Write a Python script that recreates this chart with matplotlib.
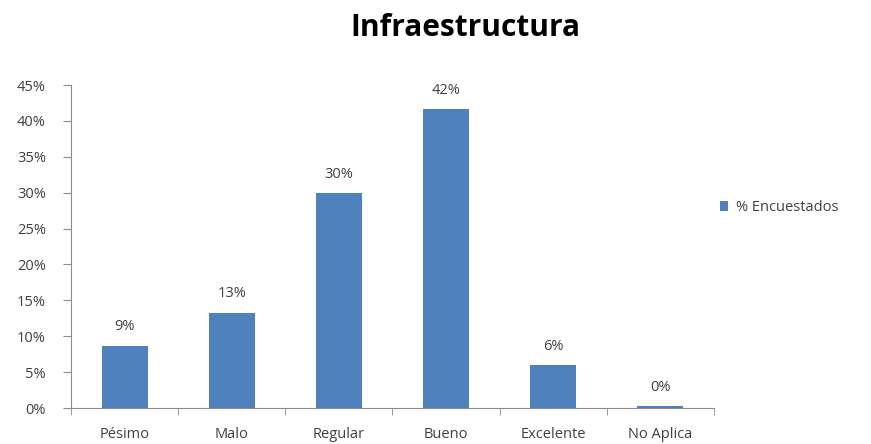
import matplotlib
import matplotlib.pyplot as plt
import numpy as np

matplotlib.use("Agg")

categorias = ["Pésimo", "Malo", "Regular", "Bueno", "Excelente", "No Aplica"]
porcentajes = [8.7, 13.3, 30.0, 41.7, 6.0, 0.3]
etiquetas = ["9%", "13%", "30%", "42%", "6%", "0%"]
ticks_y = [0, 5, 10, 15, 20, 25, 30, 35, 40, 45]

plt.rcParams["font.family"] = ["Open Sans", "DejaVu Sans"]

fig = plt.figure(figsize=(8.71, 4.44), dpi=100)
ax = fig.add_axes([0.0815, 0.081, 0.738, 0.7275])

x = np.arange(len(categorias))
bars = ax.bar(x, porcentajes, width=0.43, color="#4F81BD", label="% Encuestados")

# etiquetas de porcentaje sobre cada barra
for b, txt in zip(bars, etiquetas):
    ax.annotate(txt, (b.get_x() + b.get_width() / 2, b.get_height()),
                xytext=(0, 8), textcoords="offset points",
                ha="center", va="bottom", fontsize=10.5, color="#404040")

ax.set_xlim(-0.5, len(categorias) - 0.5)
ax.set_ylim(0, 45)
ax.set_yticks(ticks_y)
ax.set_yticklabels([f"{t}%" for t in ticks_y])
ax.set_xticks(x)
ax.set_xticklabels(categorias)
ax.set_xticks(np.arange(len(categorias) + 1) - 0.5, minor=True)

for s in ["top", "right"]:
    ax.spines[s].set_visible(False)
for s in ["left", "bottom"]:
    ax.spines[s].set_color("#8C8C8C")

ax.tick_params(axis="y", colors="#8C8C8C", labelcolor="#404040", labelsize=10.5,
               length=6, direction="out", pad=12)
ax.tick_params(axis="x", which="major", length=0, pad=14, labelsize=10.5,
               labelcolor="#404040")
ax.tick_params(axis="x", which="minor", length=5, colors="#8C8C8C", direction="out")

fig.suptitle("Infraestructura", x=0.534, y=0.97, fontsize=21.5, fontweight="bold",
             color="black")

ax.legend(loc="center left", bbox_to_anchor=(1.0, 0.62), frameon=False,
          fontsize=10.5, handlelength=0.6, handleheight=0.6, handletextpad=0.5,
          borderaxespad=0.2, borderpad=0.2, labelcolor="#404040")

plt.savefig("out.png", dpi=100)
